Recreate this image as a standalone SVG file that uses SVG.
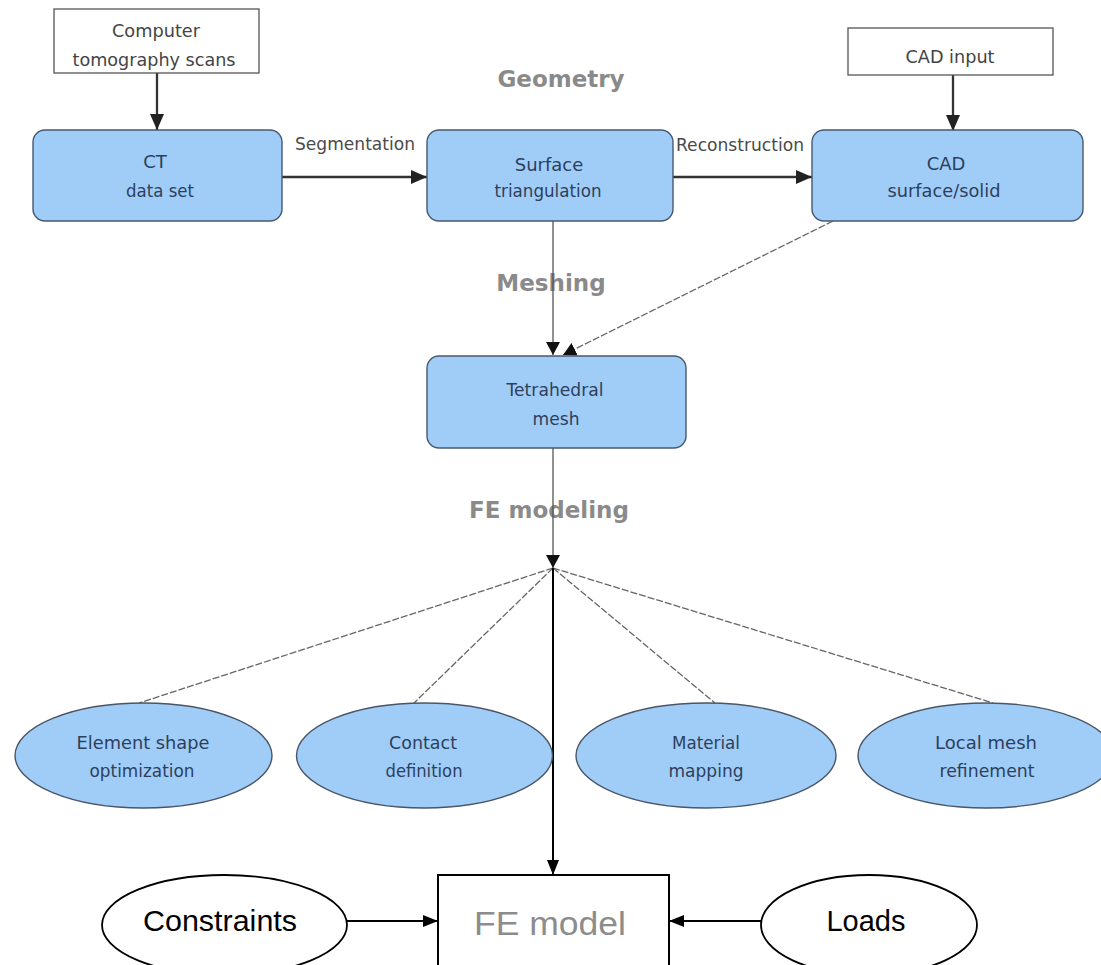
<svg xmlns="http://www.w3.org/2000/svg" width="1101" height="965" viewBox="0 0 1101 965">
<style>
.box{fill:#9fcdf8;stroke:#47596f;stroke-width:1.4}
.ell{fill:#9fcdf8;stroke:#4a5566;stroke-width:1.4}
.plain{fill:#fff;stroke:#555;stroke-width:1.3}
.lbl{font-family:"DejaVu Sans",sans-serif;font-size:18px;fill:#2e3f5c;text-anchor:middle}
.in{font-family:"DejaVu Sans",sans-serif;font-size:18px;fill:#444;text-anchor:middle}
.edge{font-family:"DejaVu Sans",sans-serif;font-size:18px;fill:#4a4a4a;text-anchor:middle}
.stage{font-family:"DejaVu Sans",sans-serif;font-size:23px;font-weight:bold;fill:#8a8a8a;text-anchor:middle}
.big{font-family:"Liberation Sans",Arial,sans-serif;font-size:29px;fill:#000;text-anchor:middle}
.thick{stroke:#333;stroke-width:2.3;fill:none}
.thin{stroke:#555;stroke-width:1.3;fill:none}
.dash{stroke:#666;stroke-width:1.3;fill:none;stroke-dasharray:7,2}
.blk{stroke:#000;stroke-width:2;fill:none}
</style>
<defs>
<marker id="ah" viewBox="0 0 16 14" refX="16" refY="7" markerWidth="16" markerHeight="14" markerUnits="userSpaceOnUse" orient="auto">
<path d="M0,0 L16,7 L0,14 z" fill="#222"/>
</marker>
<marker id="ahs" viewBox="0 0 13 14" refX="13" refY="7" markerWidth="13" markerHeight="14" markerUnits="userSpaceOnUse" orient="auto">
<path d="M0,0 L13,7 L0,14 z" fill="#111"/>
</marker>
<marker id="ahb" viewBox="0 0 15 12" refX="15" refY="6" markerWidth="15" markerHeight="12" markerUnits="userSpaceOnUse" orient="auto">
<path d="M0,0 L15,6 L0,12 z" fill="#000"/>
</marker>
</defs>
<rect width="1101" height="965" fill="#fff"/>

<g id="stage-labels">
<text class="stage" x="561" y="87">Geometry</text>
<text class="stage" x="551" y="291">Meshing</text>
<text class="stage" x="549" y="518">FE modeling</text>
</g>

<g id="connectors">
<line class="thick" x1="157" y1="73" x2="157" y2="130" marker-end="url(#ah)"/>
<line class="thick" x1="953" y1="75" x2="953" y2="131" marker-end="url(#ah)"/>
<line class="thick" x1="282" y1="177" x2="427" y2="177" marker-end="url(#ah)"/>
<text class="edge" x="355" y="150" textLength="120" lengthAdjust="spacingAndGlyphs">Segmentation</text>
<line class="thick" x1="673" y1="177" x2="812" y2="177" marker-end="url(#ah)"/>
<text class="edge" x="740" y="151" textLength="128" lengthAdjust="spacingAndGlyphs">Reconstruction</text>
<line class="thin" x1="553" y1="220" x2="553" y2="355" marker-end="url(#ahs)"/>
<line class="dash" x1="833" y1="221" x2="563" y2="355" marker-end="url(#ahs)"/>
<line class="thin" x1="553" y1="448" x2="553" y2="568" marker-end="url(#ahs)"/>
<line class="dash" x1="553" y1="568" x2="139" y2="703"/>
<line class="dash" x1="553" y1="568" x2="414" y2="703"/>
<line class="dash" x1="553" y1="568" x2="715" y2="703"/>
<line class="dash" x1="553" y1="568" x2="993" y2="703"/>
<line class="blk" x1="553" y1="568" x2="553" y2="875" marker-end="url(#ahb)"/>
<line class="blk" x1="347" y1="921" x2="438" y2="921" marker-end="url(#ahb)"/>
<line class="blk" x1="761" y1="921" x2="669" y2="921" marker-end="url(#ahb)"/>
</g>

<g id="ct-scans">
<rect class="plain" x="54" y="9" width="205" height="64"/>
<text class="in" x="156" y="37" textLength="88" lengthAdjust="spacingAndGlyphs">Computer</text>
<text class="in" x="154" y="66" textLength="163" lengthAdjust="spacingAndGlyphs">tomography scans</text>
</g>
<g id="cad-input">
<rect class="plain" x="848" y="28" width="205" height="47"/>
<text class="in" x="950" y="63" textLength="89" lengthAdjust="spacingAndGlyphs">CAD input</text>
</g>
<g id="ct-data">
<rect class="box" x="33" y="130" width="249" height="91" rx="12"/>
<text class="lbl" x="155" y="168">CT</text>
<text class="lbl" x="160" y="197" textLength="68" lengthAdjust="spacingAndGlyphs">data set</text>
</g>
<g id="surface">
<rect class="box" x="427" y="130" width="246" height="91" rx="12"/>
<text class="lbl" x="549" y="171">Surface</text>
<text class="lbl" x="548" y="197" textLength="107" lengthAdjust="spacingAndGlyphs">triangulation</text>
</g>
<g id="cad-surface">
<rect class="box" x="812" y="130" width="271" height="91" rx="12"/>
<text class="lbl" x="946" y="170">CAD</text>
<text class="lbl" x="944" y="197" textLength="113" lengthAdjust="spacingAndGlyphs">surface/solid</text>
</g>
<g id="tetra">
<rect class="box" x="427" y="356" width="259" height="92" rx="12"/>
<text class="lbl" x="555" y="396" textLength="97" lengthAdjust="spacingAndGlyphs">Tetrahedral</text>
<text class="lbl" x="556" y="425" textLength="47" lengthAdjust="spacingAndGlyphs">mesh</text>
</g>
<g id="element-shape">
<ellipse class="ell" cx="143.5" cy="755.5" rx="128.5" ry="52.5"/>
<text class="lbl" x="143" y="749" textLength="133" lengthAdjust="spacingAndGlyphs">Element shape</text>
<text class="lbl" x="142" y="777" textLength="105" lengthAdjust="spacingAndGlyphs">optimization</text>
</g>
<g id="contact">
<ellipse class="ell" cx="424.5" cy="755.5" rx="128" ry="52.5"/>
<text class="lbl" x="423" y="749" textLength="68" lengthAdjust="spacingAndGlyphs">Contact</text>
<text class="lbl" x="424" y="777" textLength="77" lengthAdjust="spacingAndGlyphs">definition</text>
</g>
<g id="material">
<ellipse class="ell" cx="706" cy="755.5" rx="130" ry="52.5"/>
<text class="lbl" x="706" y="749" textLength="68" lengthAdjust="spacingAndGlyphs">Material</text>
<text class="lbl" x="706" y="777" textLength="75" lengthAdjust="spacingAndGlyphs">mapping</text>
</g>
<g id="local-mesh">
<ellipse class="ell" cx="986" cy="755.5" rx="128" ry="52.5"/>
<text class="lbl" x="986" y="749" textLength="102" lengthAdjust="spacingAndGlyphs">Local mesh</text>
<text class="lbl" x="987" y="777" textLength="95" lengthAdjust="spacingAndGlyphs">refinement</text>
</g>
<g id="fe-model">
<rect x="438" y="875" width="231" height="120" fill="#fff" stroke="#000" stroke-width="2"/>
<text x="550" y="935" font-family="'Liberation Sans',Arial,sans-serif" font-size="33" fill="#8c8c8c" text-anchor="middle" textLength="152" lengthAdjust="spacingAndGlyphs">FE model</text>
</g>
<g id="constraints">
<ellipse cx="224.5" cy="925" rx="122.5" ry="50" fill="#fff" stroke="#000" stroke-width="1.8"/>
<text class="big" x="220" y="931" textLength="154" lengthAdjust="spacingAndGlyphs">Constraints</text>
</g>
<g id="loads">
<ellipse cx="869" cy="925" rx="108" ry="50" fill="#fff" stroke="#000" stroke-width="1.8"/>
<text class="big" x="866" y="931">Loads</text>
</g>
</svg>
